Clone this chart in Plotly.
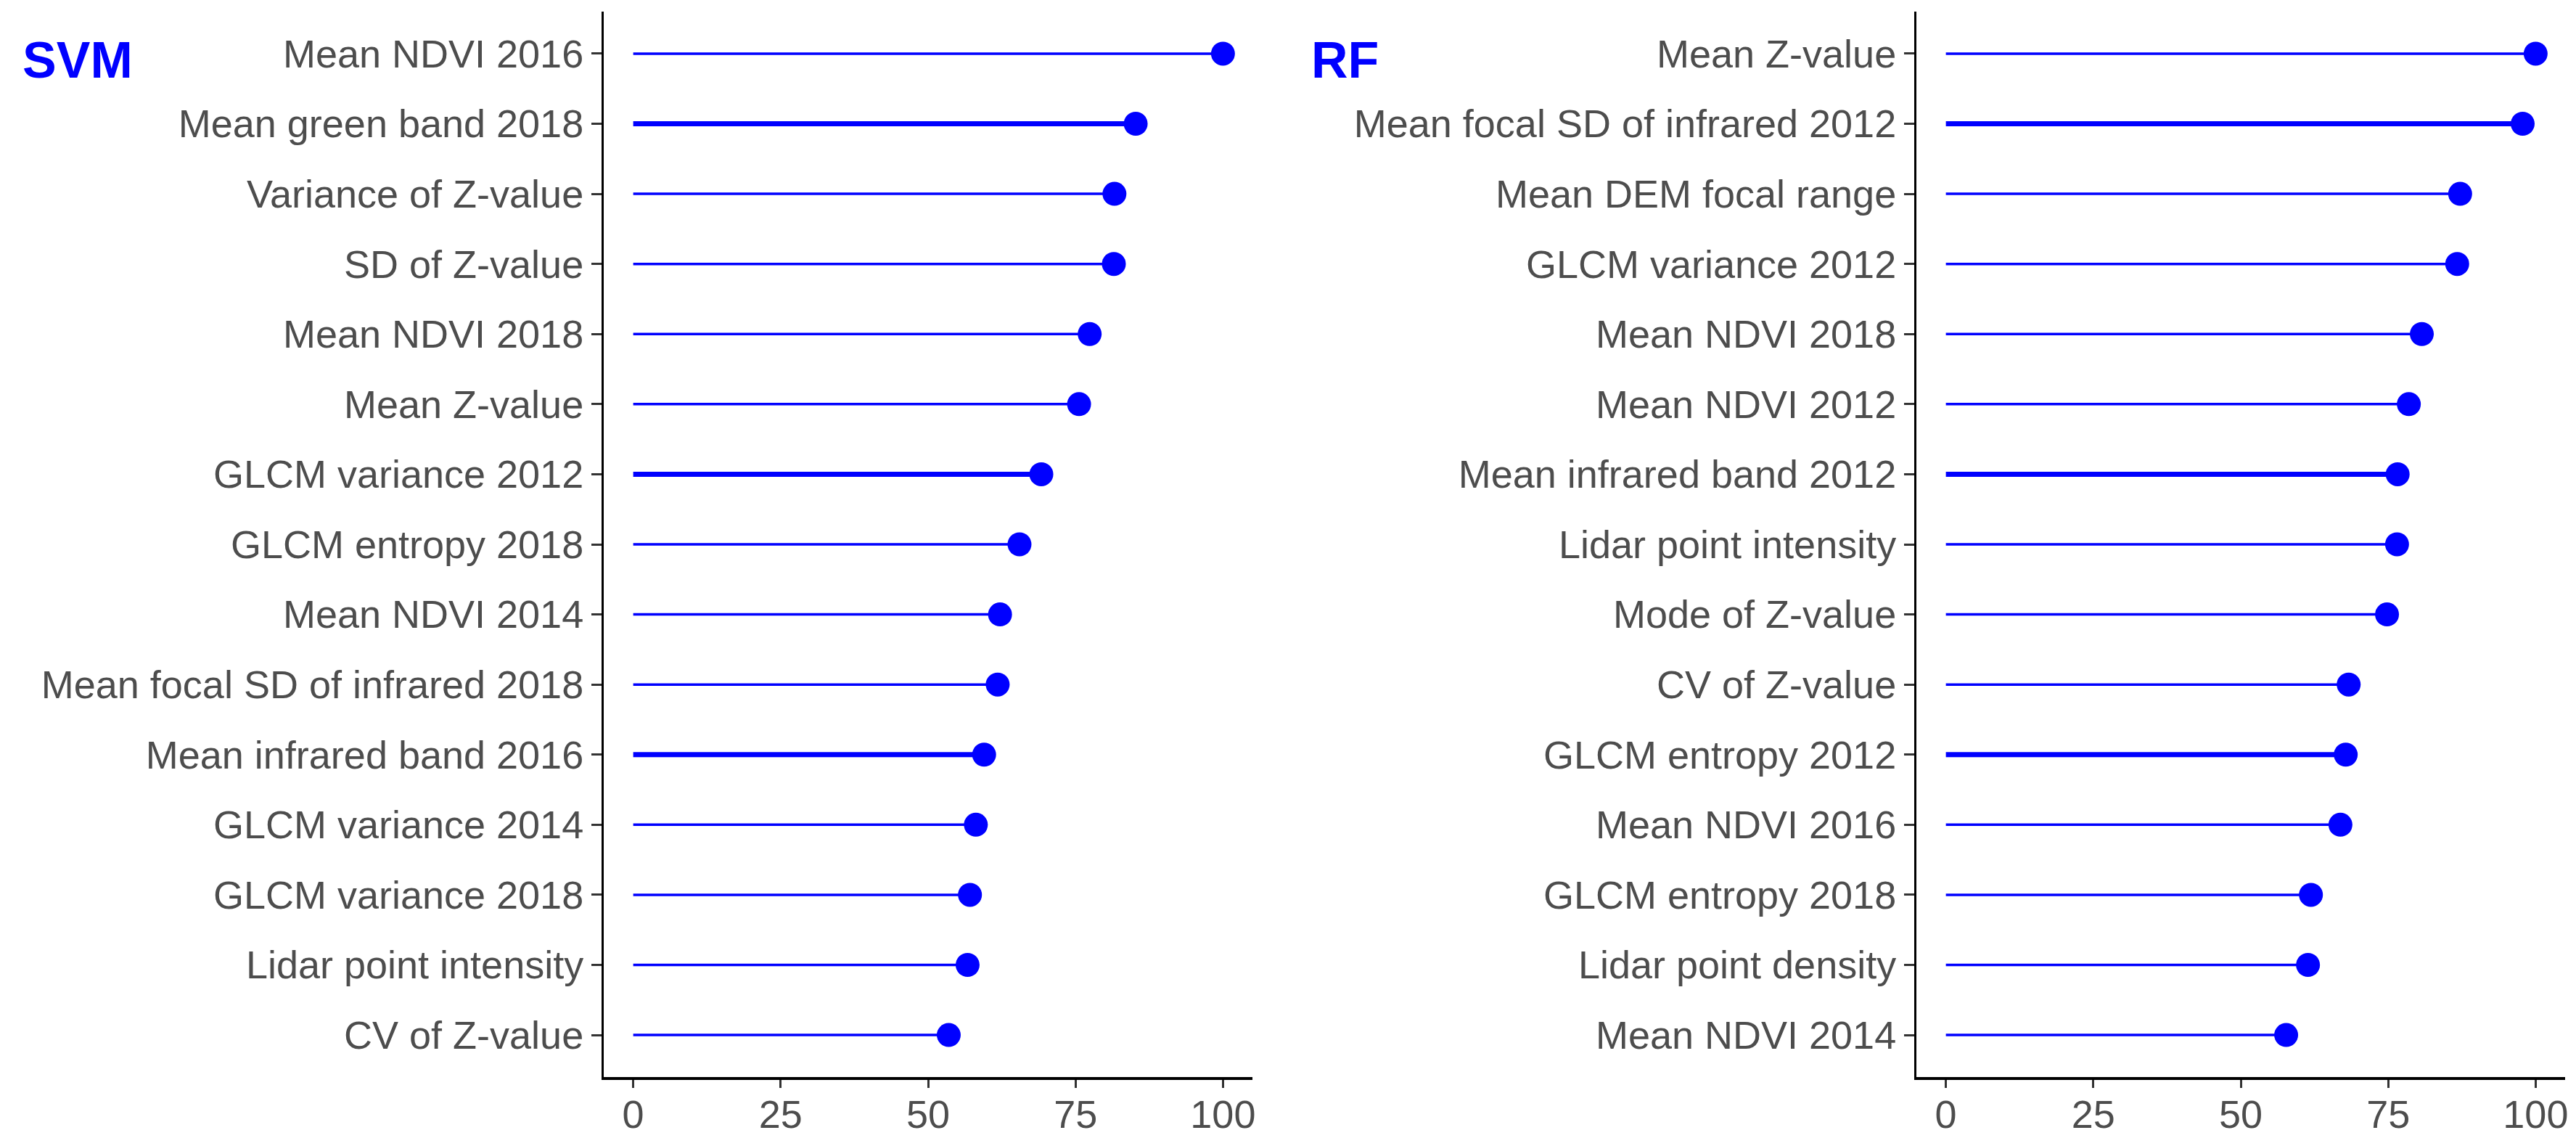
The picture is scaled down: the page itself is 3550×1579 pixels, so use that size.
import plotly.graph_objects as go

# ---- data (top row first) ----
svm_features = [
    "Mean NDVI 2016", "Mean green band 2018", "Variance of Z-value", "SD of Z-value",
    "Mean NDVI 2018", "Mean Z-value", "GLCM variance 2012", "GLCM entropy 2018",
    "Mean NDVI 2014", "Mean focal SD of infrared 2018", "Mean infrared band 2016",
    "GLCM variance 2014", "GLCM variance 2018", "Lidar point intensity", "CV of Z-value",
]
svm_importance = [100.0, 85.2, 81.6, 81.5, 77.4, 75.6, 69.2, 65.5, 62.2, 61.8, 59.5, 58.1, 57.1, 56.7, 53.5]

rf_features = [
    "Mean Z-value", "Mean focal SD of infrared 2012", "Mean DEM focal range", "GLCM variance 2012",
    "Mean NDVI 2018", "Mean NDVI 2012", "Mean infrared band 2012", "Lidar point intensity",
    "Mode of Z-value", "CV of Z-value", "GLCM entropy 2012", "Mean NDVI 2016",
    "GLCM entropy 2018", "Lidar point density", "Mean NDVI 2014",
]
rf_importance = [100.0, 97.8, 87.2, 86.7, 80.7, 78.5, 76.6, 76.5, 74.8, 68.3, 67.8, 66.9, 61.9, 61.4, 57.7]

x_ticks = [0, 25, 50, 75, 100]

# ---- styling ----
# the page body has an 8px margin, so the figure is drawn 8px smaller
# and every pixel position below is shifted by that offset
OFF = 8
W, H = 3550 - OFF, 1579 - OFF
BLUE = "#0000FF"
TEXT = "#4D4D4D"
FONT = "Liberation Sans, Arial, sans-serif"
THICK_ROWS = [1, 6, 10]   # the source image has a few heavier stems

TOP, BOTTOM = 16 - OFF, 1579 - 1484
plot_h = H - TOP - BOTTOM

fig = go.Figure()

panels = [
    ("x", "y", svm_features, svm_importance),
    ("x2", "y2", rf_features, rf_importance),
]

for xa, ya, feats, vals in panels:
    for i, (f, v) in enumerate(zip(feats, vals)):
        fig.add_trace(go.Scatter(
            x=[0, v], y=[f, f],
            mode="lines",
            line=dict(color=BLUE, width=7 if i in THICK_ROWS else 3.5),
            xaxis=xa, yaxis=ya,
            showlegend=False, hoverinfo="skip",
        ))
    fig.add_trace(go.Scatter(
        x=vals, y=feats,
        mode="markers",
        marker=dict(color=BLUE, size=33),
        xaxis=xa, yaxis=ya,
        showlegend=False,
    ))

xaxis_common = dict(
    range=[-5, 105], tickvals=x_ticks, ticktext=[str(t) for t in x_ticks],
    showline=True, linecolor="black", linewidth=4,
    ticks="outside", ticklen=11, tickwidth=3, tickcolor="#333333",
    ticklabelstandoff=-10,
    showgrid=False, zeroline=False,
    tickfont=dict(family=FONT, size=54, color=TEXT),
    automargin=False,
)

def yaxis_common(feats):
    return dict(
        type="category", categoryorder="array", categoryarray=feats,
        range=[len(feats) - 1 + 0.6, -0.6],
        showline=True, linecolor="black", linewidth=3,
        ticks="outside", ticklen=14, tickwidth=3, tickcolor="#333333",
        showgrid=False, zeroline=False,
        tickfont=dict(family=FONT, size=54, color=TEXT),
        automargin=False,
    )

fig.update_layout(
    width=W, height=H,
    margin=dict(l=0, r=0, t=TOP, b=BOTTOM),
    paper_bgcolor="white", plot_bgcolor="white",
    xaxis=dict(domain=[(832 - OFF) / W, (1726 - OFF) / W], anchor="y", **xaxis_common),
    yaxis=dict(domain=[0, 1], anchor="x", **yaxis_common(svm_features)),
    xaxis2=dict(domain=[(2641 - OFF) / W, (3535 - OFF) / W], anchor="y2", **xaxis_common),
    yaxis2=dict(domain=[0, 1], anchor="x2", **yaxis_common(rf_features)),
)

for label, px in [("SVM", 29), ("RF", 1805)]:
    fig.add_annotation(
        text="<b>" + label + "</b>",
        xref="paper", yref="paper",
        x=(px - OFF) / W, y=1 - (83 - OFF - TOP) / plot_h,
        xanchor="left", yanchor="middle",
        showarrow=False,
        font=dict(family=FONT, size=70, color=BLUE),
    )

fig.write_html("out.html")
